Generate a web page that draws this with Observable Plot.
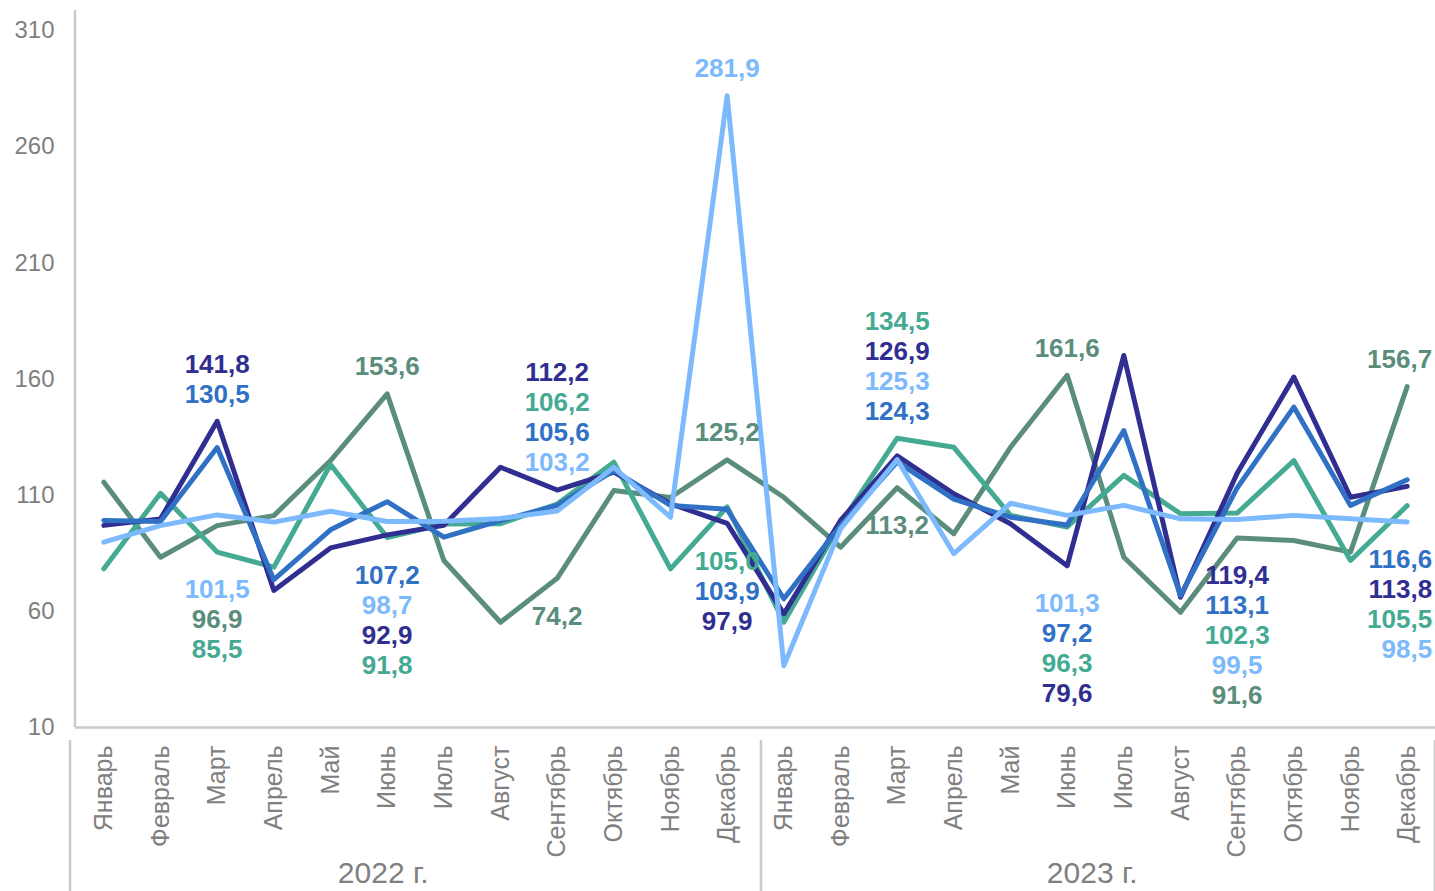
<!DOCTYPE html>
<html>
<head>
<meta charset="utf-8">
<script src="https://cdn.jsdelivr.net/npm/d3@7"></script>
<script src="https://cdn.jsdelivr.net/npm/@observablehq/plot@0.6"></script>
<style>
  html, body { margin: 0; padding: 0; background: #fff; overflow: hidden; }
  #chart svg { display: block; }
</style>
</head>
<body>
<div id="chart"></div>
<script>
// ---- data ----
const months = ["Январь","Февраль","Март","Апрель","Май","Июнь","Июль","Август","Сентябрь","Октябрь","Ноябрь","Декабрь"];
const years = ["2022 г.", "2023 г."];
const yTicks = [10, 60, 110, 160, 210, 260, 310];

const navy      = [97.0, 99.8, 141.8, 69.0, 87.3, 92.9, 97.0, 122.0, 112.2, 119.9, 106.3, 97.9, 58.9, 99.1, 126.9, 110.6, 97.7, 79.6, 170.1, 66.1, 119.4, 160.8, 109.1, 113.8];
const blue      = [99.1, 98.7, 130.5, 73.6, 95.1, 107.2, 91.9, 99.1, 105.6, 120.6, 105.6, 103.9, 65.4, 96.9, 124.3, 108.3, 100.5, 97.2, 137.8, 66.8, 113.1, 147.9, 105.6, 116.6];
const lightBlue = [89.8, 96.9, 101.5, 98.4, 103.1, 98.7, 98.8, 100.0, 103.2, 122.0, 100.5, 281.9, 36.6, 95.5, 125.3, 84.8, 106.5, 101.3, 105.6, 99.8, 99.5, 101.3, 99.8, 98.5];
const teal      = [78.3, 110.8, 85.5, 79.0, 123.2, 91.8, 97.6, 97.7, 106.2, 124.2, 78.3, 105.0, 55.3, 97.7, 134.5, 130.6, 101.3, 96.3, 118.5, 102.0, 102.3, 124.9, 81.9, 105.5];
const darkGreen = [115.6, 83.3, 96.9, 101.2, 124.9, 153.6, 81.9, 55.3, 74.2, 112.0, 109.0, 125.2, 109.1, 87.6, 113.2, 93.4, 130.6, 161.6, 83.3, 59.6, 91.6, 90.5, 85.5, 156.7];

// months (index 0..23) that carry value labels, and label side per series: a = above stack, b = below stack, t = over own point
const labelMonths     = [2, 5, 8, 11, 14, 17, 20, 23];
const navySides       = ["a","b","a","b","a","b","b","b"];
const blueSides       = ["a","b","a","b","a","b","b","b"];
const lightBlueSides  = ["b","b","a","t","a","b","b","b"];
const tealSides       = ["b","b","a","b","a","b","b","b"];
const darkGreenSides  = ["b","a","b","t","b","a","b","a"];

// ---- build ----
const keys = years.flatMap((y, yi) => months.map((m, mi) => `${yi}|${mi}`));
const series = [
  {name: "darkGreen", values: darkGreen, sides: darkGreenSides, color: "#5A8D7B"},
  {name: "teal",      values: teal,      sides: tealSides,      color: "#44AA92"},
  {name: "navy",      values: navy,      sides: navySides,      color: "#312E91"},
  {name: "blue",      values: blue,      sides: blueSides,      color: "#3071C6"},
  {name: "lightBlue", values: lightBlue, sides: lightBlueSides, color: "#7DBAFD"}
];

const W = 1435, H = 891, ML = 75, MR = 0, MT = 10, MB = 164;
const yDomain = [10, 318.6];
const ys = Plot.scale({y: {domain: yDomain, range: [H - MB, MT]}});

const gapAbove = 27, gapBelow = 38, spacing = 30;
const labels = [];
labelMonths.forEach((mi, j) => {
  const items = series.map(s => ({s, v: s.values[mi], side: s.sides[j]}));
  const above = items.filter(d => d.side === "a").sort((a, b) => a.v - b.v);
  if (above.length) {
    const startPx = Math.min(...above.map(d => ys.apply(d.v)));
    above.forEach((d, k) => labels.push({...d, mi, px: startPx - gapAbove - k * spacing}));
  }
  items.filter(d => d.side === "t").forEach(d => labels.push({...d, mi, px: ys.apply(d.v) - gapAbove}));
  const below = items.filter(d => d.side === "b").sort((a, b) => b.v - a.v);
  if (below.length) {
    const startPx = Math.max(...below.map(d => ys.apply(d.v)));
    below.forEach((d, k) => labels.push({...d, mi, px: startPx + gapBelow + k * spacing}));
  }
});
const labelRows = labels.map(d => ({
  key: keys[d.mi],
  last: d.mi === keys.length - 1,
  y: ys.invert(d.px),
  text: d.v.toFixed(1).replace(".", ","),
  color: d.s.color
}));

const font = "'Liberation Sans', Arial, sans-serif";
const narrow = "'Liberation Sans Narrow', 'Arial Narrow', 'Liberation Sans', sans-serif";
const grey = "#808080";

const lineMarks = series.map(s => Plot.line(s.values.map((v, i) => ({key: keys[i], v})), {
  x: "key", y: "v", stroke: s.color, strokeWidth: 5, strokeLinejoin: "round", strokeLinecap: "round"
}));

const labelStyle = {fontSize: 26, fontWeight: "bold", fontFamily: font, lineAnchor: "middle"};
const yearStyle = {frameAnchor: "bottom", dy: 146, text: d => d, lineAnchor: "middle", textAnchor: "middle",
  fontSize: 30, fill: grey, fontFamily: narrow};

const chart = Plot.plot({
  width: W, height: H,
  marginLeft: ML, marginRight: MR, marginTop: MT, marginBottom: MB,
  style: {fontFamily: font, background: "#fff", overflow: "visible"},
  x: {type: "point", domain: keys, padding: 0.5, round: false, axis: null},
  y: {domain: yDomain, axis: null},
  marks: [
    Plot.axisY({ticks: yTicks, tickSize: 0, tickPadding: 21, fontSize: 24, fill: grey, label: null, tickFormat: d => String(d)}),
    Plot.axisX({tickRotate: -90, tickSize: 0, tickPadding: 18, fontSize: 25, fill: grey, label: null,
      tickFormat: k => months[+k.split("|")[1]]}),
    Plot.ruleY([yDomain[0]], {stroke: "#c9c9c9", strokeWidth: 2.5}),
    ...lineMarks,
    Plot.text(labelRows.filter(d => !d.last), {x: "key", y: "y", text: "text", fill: "color", textAnchor: "middle", ...labelStyle}),
    Plot.text(labelRows.filter(d => d.last), {x: "key", y: "y", text: "text", fill: "color", textAnchor: "end", dx: 25, ...labelStyle}),
    Plot.text([years[0]], {x: () => keys[5], dx: -4, ...yearStyle}),
    Plot.text([years[1]], {x: () => keys[17], dx: 25, ...yearStyle})
  ]
});

// axis line and category separators, positioned from the plot's own x scale
const sx = chart.scale("x");
const step = sx.apply(keys[1]) - sx.apply(keys[0]);
const svg = d3.select(chart);
const deco = svg.insert("g", ":first-child").attr("stroke", "#c9c9c9").attr("stroke-width", 2.5);
deco.append("line").attr("x1", ML).attr("x2", ML).attr("y1", MT).attr("y2", H - MB);
[0, 12, 24].forEach(i => {
  const x = i < keys.length ? sx.apply(keys[i]) - step / 2 + (i === 0 ? -5 : 6) : sx.apply(keys[keys.length - 1]) + step / 2;
  deco.append("line").attr("x1", x).attr("x2", x).attr("y1", H - MB + 13).attr("y2", H);
});
document.getElementById("chart").append(chart);
</script>
</body>
</html>
